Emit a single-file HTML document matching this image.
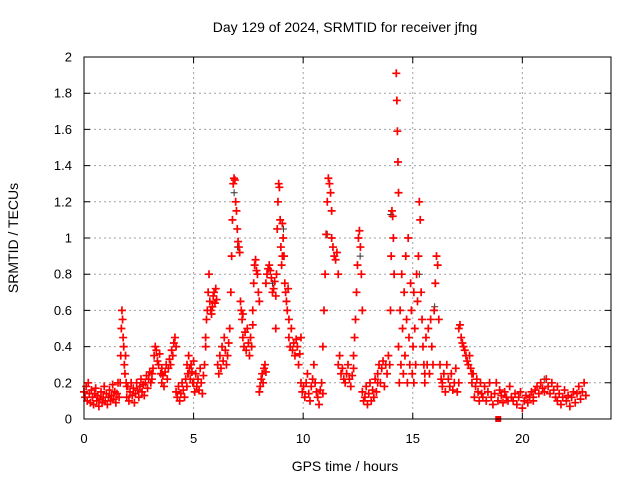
<!DOCTYPE html>
<html><head><meta charset="utf-8"><style>
body{margin:0;background:#fff}
svg{display:block;font-family:"Liberation Sans",sans-serif}
</style></head><body>
<svg width="640" height="480" id="chart">
<rect width="640" height="480" fill="#fff"/>
<text x="345" y="32" text-anchor="middle" font-size="14">Day 129 of 2024, SRMTID for receiver jfng</text>
<text x="345" y="471" text-anchor="middle" font-size="14">GPS time / hours</text>
<text x="18" y="238" text-anchor="middle" font-size="14" transform="rotate(-90 18 238)">SRMTID / TECUs</text>
<g id="grid"></g>
<g id="ticks"></g>
<g id="marks"></g>
<rect x="84" y="57" width="527" height="362" fill="none" stroke="#000" stroke-width="1"/>
</svg>
<script>
const xTicks=[0,5,10,15,20];
const yTicks=[0,0.2,0.4,0.6,0.8,1,1.2,1.4,1.6,1.8,2];
const yTickLabels=["0","0.2","0.4","0.6","0.8","1","1.2","1.4","1.6","1.8","2"];
const segStart=[0.0,1.65,1.95,3.1,3.55,4.2,4.7,5.0,5.55,6.1,6.7,7.25,7.7,8.0,8.3,8.75,9.05,9.35,9.9,10.9,11.3,11.6,12.3,12.7,13.4,13.95,14.25,14.35,15.05,15.55,16.35,17.1,17.7,18.2,19.5,20.5,21.6];
const segEnd=[1.6,1.95,3.1,3.55,4.2,4.75,5.0,5.55,6.05,6.65,7.25,7.7,8.0,8.3,8.75,9.05,9.35,9.9,10.9,11.3,11.6,12.3,12.7,13.4,13.95,14.15,14.35,15.05,15.55,16.35,17.1,17.7,18.2,19.5,20.5,21.6,22.9];
const segVals=[
[0.15,0.12,0.18,0.1,0.2,0.14,0.09,0.16,0.12,0.08,0.14,0.17,0.1,0.13,0.07,0.11,0.15,0.09,0.12,0.18,0.1,0.14,0.08,0.12,0.16,0.1,0.13,0.19,0.11,0.15,0.09,0.14,0.2,0.12],
[0.2,0.35,0.5,0.6,0.55,0.45,0.4,0.3,0.25,0.35,0.2,0.18],
[0.12,0.18,0.1,0.15,0.2,0.13,0.17,0.09,0.14,0.2,0.16,0.12,0.18,0.22,0.15,0.19,0.13,0.2,0.24,0.17,0.22,0.26,0.2,0.25],
[0.22,0.28,0.35,0.4,0.38,0.32,0.3,0.36,0.25,0.28],
[0.2,0.24,0.18,0.26,0.3,0.22,0.28,0.33,0.3,0.38,0.35,0.42,0.45,0.4],
[0.15,0.12,0.18,0.1,0.14,0.2,0.16,0.12,0.22,0.18,0.25],
[0.3,0.25,0.35,0.28,0.22,0.3,0.26,0.2,0.32],
[0.2,0.15,0.25,0.18,0.22,0.16,0.28,0.2,0.14,0.24,0.3,0.4],
[0.45,0.55,0.6,0.7,0.8,0.65,0.6,0.58,0.62,0.68,0.7,0.64,0.72,0.66],
[0.3,0.25,0.35,0.28,0.4,0.32,0.45,0.38,0.3,0.35,0.42,0.5],
[0.7,0.9,1.1,1.3,1.33,1.32,1.2,1.15,1.05,0.98,0.95,0.92,0.65,0.6,0.55,0.58],
[0.45,0.4,0.48,0.38,0.5,0.42,0.35,0.45,0.4,0.52],
[0.6,0.75,0.85,0.88,0.82,0.8,0.7,0.65],
[0.15,0.18,0.22,0.25,0.2,0.28,0.3,0.26],
[0.75,0.8,0.83,0.85,0.82,0.78,0.7,0.72,0.76,0.68],
[0.5,0.8,1.05,1.2,1.3,1.28,1.1,0.95,0.85,0.9],
[1.08,1.0,0.9,0.75,0.7,0.65,0.6,0.72,0.55],
[0.45,0.4,0.5,0.38,0.42,0.35,0.44,0.4,0.3,0.36,0.45],
[0.2,0.15,0.18,0.12,0.2,0.25,0.14,0.1,0.18,0.22,0.3,0.2,0.15,0.12,0.08,0.16,0.2,0.14],
[0.4,0.6,0.8,1.02,1.2,1.33,1.3,1.25,1.15],
[1.0,0.95,0.9,0.88,0.92,0.8],
[0.3,0.35,0.25,0.28,0.22,0.2,0.25,0.3,0.22,0.18,0.24,0.28],
[0.35,0.45,0.55,0.7,0.85,1.0,1.04,0.95,0.8,0.6],
[0.15,0.1,0.12,0.18,0.08,0.14,0.2,0.1,0.16,0.12,0.22,0.15,0.2],
[0.25,0.3,0.2,0.28,0.32,0.18,0.3,0.25,0.35,0.3],
[0.3,0.6,0.9,1.15,1.12,1.0,0.8],
[1.91,1.76,1.59,1.42,1.25],
[0.4,0.2,0.6,0.3,0.8,0.5,0.25,0.7,0.35,0.9,0.55,0.2,1.0,0.45,0.3,0.75,0.6,0.25,0.4,0.7],
[0.2,0.5,0.3,0.8,0.65,0.9,1.2,1.1,0.7,0.55,0.4,0.3,0.25],
[0.2,0.45,0.3,0.5,0.25,0.55,0.4,0.3,0.6,0.75,0.9,0.85,0.55,0.3,0.22,0.18],
[0.2,0.25,0.15,0.3,0.22,0.18,0.25,0.16,0.2,0.28,0.15,0.2],
[0.5,0.52,0.45,0.42,0.4,0.38,0.35,0.32,0.3,0.35,0.28,0.25],
[0.2,0.25,0.12,0.18,0.22,0.15,0.1,0.2,0.14,0.12],
[0.12,0.18,0.1,0.15,0.2,0.12,0.08,0.14,0.2,0.1,0.16,0.13,0.09,0.15,0.12,0.1,0.18,0.12],
[0.12,0.1,0.14,0.08,0.12,0.15,0.06,0.1,0.13,0.09,0.12,0.15,0.1],
[0.12,0.16,0.18,0.14,0.2,0.17,0.15,0.22,0.18,0.14,0.2,0.16,0.12,0.18],
[0.1,0.14,0.08,0.12,0.16,0.1,0.13,0.07,0.12,0.15,0.09,0.14,0.18,0.11,0.15,0.2,0.13]
];
const blackTimes=[6.85,7.0,9.1,11.1,14.0,15.3,16.0,21.0,12.6,8.6];
const blackVals=[1.25,0.95,1.05,1.02,1.13,0.8,0.62,0.22,0.9,0.75];
const squareTimes=[18.9];
const squareVals=[0];

const X0=84,X1=610,Y0=419,Y1=57,XMAX=24,YMAX=2;
function sx(h){return X0+(X1-X0)*h/XMAX;}
function sy(v){return Y0-(Y0-Y1)*v/YMAX;}
const NS="http://www.w3.org/2000/svg";
const grid=document.getElementById('grid'),ticks=document.getElementById('ticks'),marks=document.getElementById('marks');
function mk(tag,attrs,parent){const e=document.createElementNS(NS,tag);for(const k in attrs)e.setAttribute(k,attrs[k]);parent.appendChild(e);return e;}
xTicks.forEach(t=>{
  const x=sx(t);
  if(t>0){const g=mk('line',{x1:x,x2:x,y1:Y1,y2:Y0,stroke:'#a0a0a0','stroke-dasharray':'2,3'},grid);
  
  }
  const tk=mk('path',{d:`M${x} ${Y0}v-6M${x} ${Y1}v6`,stroke:'#000'},ticks);
  
  
  const l=mk('text',{x:x,y:443,'text-anchor':'middle','font-size':'13'},ticks);l.textContent=String(t);
  
  
});
yTicks.forEach((t,i)=>{
  const y=sy(t);
  if(i>0&&i<yTicks.length-1){const g=mk('line',{x1:X0,x2:611,y1:y,y2:y,stroke:'#a0a0a0','stroke-dasharray':'2,3'},grid);
  
  }
  const tk=mk('path',{d:`M${X0} ${y}h6M611 ${y}h-6`,stroke:'#000'},ticks);
  
  
  const l=mk('text',{x:72,y:y+4.5,'text-anchor':'end','font-size':'13'},ticks);l.textContent=yTickLabels[i];
  
  
});
let dB='';
blackTimes.forEach((t,i)=>{const x=sx(t),y=sy(blackVals[i]);dB+=`M${x-3.5} ${y}h7M${x} ${y-3.5}v7`;});
const pb=mk('path',{d:dB,stroke:'#333',fill:'none','stroke-width':'1'},marks);


let dR='';
segVals.forEach((vals,s)=>{
  const n=vals.length;
  vals.forEach((v,i)=>{
    const t=segStart[s]+(n>1?(segEnd[s]-segStart[s])*i/(n-1):0);
    const x=sx(t),y=sy(v);
    dR+=`M${x-4} ${y}h8M${x} ${y-4}v8`;
  });
});
const pr=mk('path',{d:dR,stroke:'#f00',fill:'none','stroke-width':'1.7'},marks);


squareTimes.forEach((t,i)=>{
  const r=mk('rect',{x:sx(t)-3,y:sy(squareVals[i])-3,width:6,height:6,fill:'#f00'},marks);
  
  
});
</script>
</body></html>
